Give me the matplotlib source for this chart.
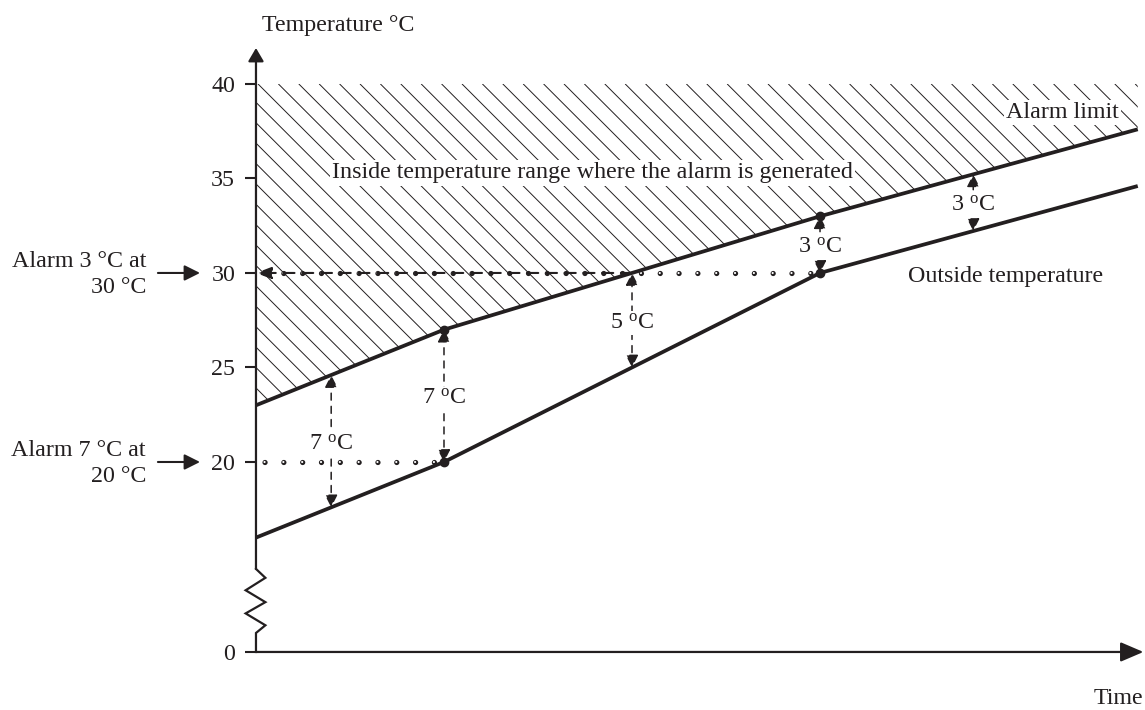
import numpy as np
import matplotlib
matplotlib.use("Agg")
import matplotlib.pyplot as plt
from matplotlib.patches import Polygon
from matplotlib.collections import LineCollection

plt.rcParams['font.family'] = ['Liberation Serif', 'DejaVu Serif']
plt.rcParams['mathtext.fontset'] = 'custom'
plt.rcParams['mathtext.rm'] = 'Liberation Serif'
plt.rcParams['mathtext.it'] = 'Liberation Serif:italic'
plt.rcParams['lines.scale_dashes'] = False

INK = '#231f20'
FS = 17.3

# ---- data ----
time = [0, 2, 6, 9.38]
outside_temp = [16, 20, 30, 34.6]
alarm_limit = [23, 27, 33, 37.6]

diff_times = [0.8, 2, 4, 6, 7.63]
diff_values = [7, 7, 5, 3, 3]

setpoint_diffs = [3, 7]
setpoint_temps = [30, 20]

y_ticks = [0, 20, 25, 30, 35, 40]

# ---- broken temperature axis: 0..BREAK_T is squeezed ----
BREAK_T = 14.5
ZERO_Y = 9.95


def fwd(t):
    t = np.asarray(t, float)
    return np.where(t >= BREAK_T, t, ZERO_Y + t * (BREAK_T - ZERO_Y) / BREAK_T)


def inv(y):
    y = np.asarray(y, float)
    return np.where(y >= BREAK_T, y, (y - ZERO_Y) * BREAK_T / (BREAK_T - ZERO_Y))


fig = plt.figure(figsize=(11.45, 7.1), dpi=100)
ax = fig.add_axes([0, 0, 1, 1])
ax.set_yscale('function', functions=(fwd, inv))
ax.set_xlim(-2.723, 9.457)
ax.set_ylim(float(inv(6.88)), 44.44)
for s in ax.spines.values():
    s.set_visible(False)
ax.spines['left'].set_position(('data', 0))
ax.set_xticks([])
ax.set_yticks(y_ticks)
ax.set_yticklabels([str(v) for v in y_ticks])
ax.tick_params(axis='y', direction='out', length=8, width=1.5, pad=7,
               labelsize=FS, colors=INK)
ax.yaxis.set_minor_locator(matplotlib.ticker.NullLocator())


def arrow(xy, xytext, hl, hw, lw=1.5, ls='-', style='-|>', z=3):
    ax.annotate('', xy=xy, xytext=xytext, zorder=z,
                arrowprops=dict(arrowstyle=f'{style},head_length={hl},head_width={hw}',
                                mutation_scale=1, lw=lw, color=INK, linestyle=ls,
                                shrinkA=0, shrinkB=0))


# ---- axes lines ----
arrow((0, 41.9), (0, 14.0), 8, 4.7, lw=1.6)
ax.plot([0, 0.1, -0.11, 0.1, -0.11, 0.1, 0, 0],
        [14.0, 12.5, 10.4, 8.4, 6.5, 4.5, 3.2, 0], color=INK, lw=1.6,
        solid_joinstyle='miter', zorder=3)
arrow((9.44, 0), (0, 0), 14, 6, lw=1.6)

ax.annotate('Temperature °C', xy=(0.064, 42.8), ha='left', va='baseline',
            fontsize=FS, color=INK)
ax.annotate('Time', xy=(9.44, 0), xytext=(0, -37.4), textcoords='offset points',
            ha='right', va='baseline', fontsize=FS, color=INK)

# ---- hatched alarm region ----
verts = [(time[0], 40), (time[-1], 40)] + list(zip(time[::-1], alarm_limit[::-1]))
region = Polygon(verts, closed=True, fc='none', ec='none')
ax.add_patch(region)
x0, ytop = ax.transData.transform((0, 40))
step = 20.4
L = 340
segs = []
for k in range(-17, 46):
    xa = x0 + 2 + k * step
    segs.append(ax.transData.inverted().transform([(xa, ytop), (xa + L, ytop - L)]))
hatch = LineCollection(segs, colors=INK, linewidths=0.7, zorder=1)
hatch.set_clip_path(region)
ax.add_collection(hatch)

# ---- temperature curves ----
ax.plot(time, alarm_limit, color=INK, lw=2.7, zorder=4, solid_capstyle='butt')
ax.plot(time, outside_temp, color=INK, lw=2.7, zorder=4, solid_capstyle='butt')
ax.plot(time[1:3], alarm_limit[1:3], 'o', ms=6, color=INK, zorder=5)
ax.plot(time[1:3], outside_temp[1:3], 'o', ms=6, color=INK, zorder=5)

# ---- setpoint guide lines ----
PERIOD = 13.54
OFFSET = 7.4


def open_dots(xs, ys):
    for c, lw in ((INK, 3.8), ('white', 1.6)):
        ax.plot(xs, ys, color=c, lw=lw, linestyle=(OFFSET, (0.01, PERIOD)),
                dash_capstyle='round', zorder=2.5)


for d, temp in zip(setpoint_diffs, setpoint_temps):
    t_out = float(np.interp(temp, outside_temp, time))
    open_dots([0, t_out], [temp, temp])
    ax.annotate(f'Alarm {d} °C at\n{temp} °C', xy=(0, temp), xytext=(-79.2, -1),
                textcoords='offset points', ha='right', va='center',
                multialignment='right', fontsize=FS, color=INK, linespacing=1.35)
    ax.annotate('', xy=(0, temp), xytext=(-70.6, 0), textcoords='offset points',
                zorder=3,
                arrowprops=dict(arrowstyle='-|>,head_length=9.4,head_width=4.7',
                                mutation_scale=1, lw=1.5, color=INK,
                                shrinkA=0, shrinkB=40.3))

# threshold arrow where the alarm limit reaches 30 °C
t_alarm30 = float(np.interp(setpoint_temps[0], alarm_limit, time))
arrow((0, setpoint_temps[0]), (t_alarm30, setpoint_temps[0]), 9.4, 3.6, lw=1.5,
      ls=(0, (8, 5.5)), z=3)

# ---- difference arrows ----
for t, d in zip(diff_times, diff_values):
    low = float(np.interp(t, time, outside_temp))
    high = low + d
    arrow((t, high), (t, low), 7.5, 3.8, lw=1.1, ls=(0, (5, 4.5)), style='<|-|>', z=3)
    mid = float(fwd(0.5 * (low + high)))
    ax.annotate(f'{d} $^{{\\mathrm{{o}}}}$C', xy=(t, mid), xytext=(0, -6),
                textcoords='offset points', ha='center', va='baseline',
                fontsize=FS, color=INK, zorder=6,
                bbox=dict(fc='white', ec='none', pad=1))

# ---- region labels ----
ax.text(0.81, 35.0, 'Inside temperature range where the alarm is generated',
        ha='left', va='baseline', fontsize=FS, color=INK, zorder=6,
        bbox=dict(fc='white', ec='none', pad=1.5))
ax.text(7.98, 38.2, 'Alarm limit', ha='left', va='baseline', fontsize=FS,
        color=INK, zorder=6, bbox=dict(fc='white', ec='none', pad=1.5))
ax.text(6.94, 29.5, 'Outside temperature', ha='left', va='baseline', fontsize=FS,
        color=INK, zorder=6)

fig.savefig('out.png', dpi=100)
